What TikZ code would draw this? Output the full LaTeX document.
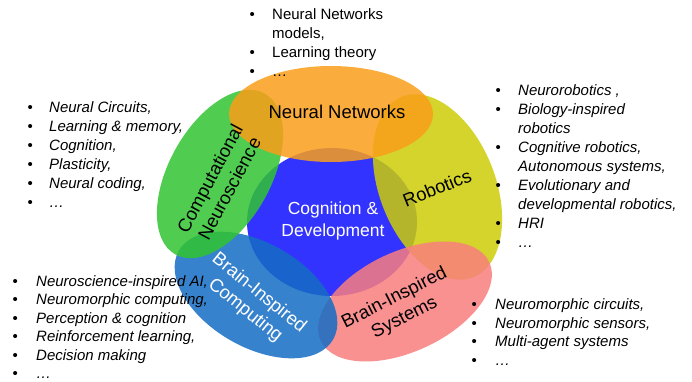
\documentclass[tikz,border=0pt]{standalone}
\usepackage{fontspec}
\setmainfont{Liberation Sans}
\usepackage{array}
\definecolor{cCenter}{RGB}{51,51,255}
\definecolor{cOrange}{RGB}{249,158,26}
\definecolor{cGreen}{RGB}{49,196,49}
\definecolor{cYellow}{RGB}{204,204,8}
\definecolor{cBlue}{RGB}{20,108,196}
\definecolor{cPink}{RGB}{249,126,126}
\newcommand\itemdot{{\upshape\textbullet}}
\begin{document}
\begin{tikzpicture}[x=1pt,y=1pt,
  blob/.style={fill opacity=0.85},
  lbl/.style={inner sep=0, align=center, font=\fontsize{18.5}{22}\selectfont},
  lst/.style={inner sep=0, anchor=base west}]
\useasboundingbox (0,0) rectangle (692,381);
% central region
\fill[cCenter] (332,159) ellipse [x radius=85pt, y radius=74pt];
% surrounding ellipses
\fill[cYellow,blob,rotate around={-68.5:(437.5,194)}] (437.5,194) ellipse [x radius=97pt, y radius=58pt];
\fill[cPink,blob,rotate around={25:(405,79.5)}] (405,79.5) ellipse [x radius=93pt, y radius=50pt];
\fill[cBlue,blob,rotate around={-30:(256,86)}] (256,86) ellipse [x radius=89pt, y radius=52pt];
\fill[cGreen,blob,rotate around={61:(220,207)}] (220,207) ellipse [x radius=92pt, y radius=51pt];
\fill[cOrange,blob] (331,267) ellipse [x radius=102pt, y radius=48pt];
% labels
\node[lbl] (nn) at (337,269) {Neural Networks};
\node[lbl, rotate=62] (cn) at (219.5,197.5) {Computational\\Neuroscience};
\node[lbl, rotate=22] (rb) at (437,193) {Robotics};
\node[lbl, text=white, font=\fontsize{17.5}{21.7}\selectfont] (cd) at (333,160) {Cognition \&\\Development};
\node[lbl, text=white, rotate=-39] (bic) at (252,79) {Brain-Inspired\\Computing};
\node[lbl, rotate=27] (bis) at (399.5,73) {Brain-Inspired\\Systems};
% lists
\node[lst, font=\fontsize{15}{19}\selectfont] (ltop) at (249.4,361.5)
 {\begin{tabular}[t]{@{}p{22.6pt}@{}l@{}}
 \itemdot & Neural Networks\\
  & models,\\
 \itemdot & Learning theory\\
 \itemdot & …
 \end{tabular}};
\node[lst, font=\fontsize{15}{19}\selectfont\itshape] (lleft) at (27.4,269)
 {\begin{tabular}[t]{@{}p{21.6pt}@{}l@{}}
 \itemdot & Neural Circuits,\\
 \itemdot & Learning \& memory,\\
 \itemdot & Cognition,\\
 \itemdot & Plasticity,\\
 \itemdot & Neural coding,\\
 \itemdot & …
 \end{tabular}};
\node[lst, font=\fontsize{15}{19}\selectfont\itshape] (lright) at (495.4,285.5)
 {\begin{tabular}[t]{@{}p{22.6pt}@{}l@{}}
 \itemdot & Neurorobotics ,\\
 \itemdot & Biology-inspired\\
  & robotics\\
 \itemdot & Cognitive robotics,\\
  & Autonomous systems,\\
 \itemdot & Evolutionary and\\
  & developmental robotics,\\
 \itemdot & HRI\\
 \itemdot & …
 \end{tabular}};
\node[lst, font=\fontsize{15}{18.4}\selectfont\itshape] (lbl2) at (12.4,94.5)
 {\begin{tabular}[t]{@{}p{23.6pt}@{}l@{}}
 \itemdot & Neuroscience-inspired AI,\\
 \itemdot & Neuromorphic computing,\\
 \itemdot & Perception \& cognition\\
 \itemdot & Reinforcement learning,\\
 \itemdot & Decision making\\
 \itemdot & …
 \end{tabular}};
\node[lst, font=\fontsize{15}{18.7}\selectfont\itshape] (lbr) at (471.4,71.5)
 {\begin{tabular}[t]{@{}p{23.6pt}@{}l@{}}
 \itemdot & Neuromorphic circuits,\\
 \itemdot & Neuromorphic sensors,\\
 \itemdot & Multi-agent systems\\
 \itemdot & …
 \end{tabular}};
\end{tikzpicture}
\end{document}
